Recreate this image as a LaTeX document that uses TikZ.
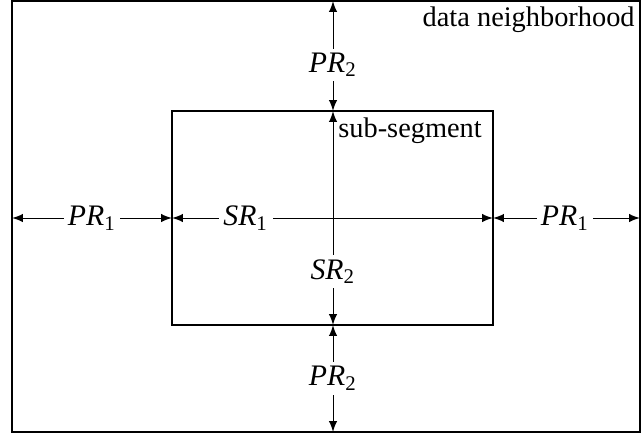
\documentclass[tikz,border=0pt]{standalone}
\usepackage{fontspec}
\setmainfont{Liberation Serif}
\usetikzlibrary{calc}

\begin{document}
\begin{tikzpicture}[x=0.356pt, y=0.356pt, >=latex,
  dim/.style={<->, line width=0.35pt},
  lbl/.style={fill=white, inner sep=1.5pt, font=\fontsize{10.6}{12}\selectfont}]

\useasboundingbox (0,0) rectangle (643,434);

% Corners
\coordinate (outSW) at (12,2);
\coordinate (outNE) at (640,433);
\coordinate (inSW) at (172,109);
\coordinate (inNE) at (493,323);

% Rectangles
\draw[line width=0.7pt] (outSW) rectangle (outNE);
\draw[line width=0.7pt] (inSW) rectangle (inNE);

% Ends of the dimension lines
\coordinate (outN) at (333,433);
\coordinate (outS) at (333,2);
\coordinate (outW) at (12,216);
\coordinate (outE) at (640,216);
\coordinate (inN) at (333,323);
\coordinate (inS) at (333,109);
\coordinate (inW) at (172,216);
\coordinate (inE) at (493,216);

% Horizontal
\draw[dim] (outW) -- node[lbl, pos=0.5] {\textit{PR}\textsubscript{1}} (inW);
\draw[dim] (inW) -- node[lbl, pos=0.23] {\textit{SR}\textsubscript{1}} (inE);
\draw[dim] (inE) -- node[lbl, pos=0.49] {\textit{PR}\textsubscript{1}} (outE);

% Vertical
\draw[dim] (inN) -- node[lbl, pos=0.42] {\textit{PR}\textsubscript{2}} (outN);
\draw[dim] (inN) -- node[lbl, pos=0.75] {\textit{SR}\textsubscript{2}} (inS);
\draw[dim] (inS) -- node[lbl, pos=0.5] {\textit{PR}\textsubscript{2}} (outS);

% Names
\node[lbl, fill=none, anchor=north east, inner sep=1pt, font=\fontsize{10.1}{12}\selectfont] (nbh) at (638,431) {data neighborhood};
\node[lbl, fill=none, anchor=north west, inner sep=1pt, font=\fontsize{10.1}{12}\selectfont] (seg) at (335,320) {sub-segment};

\end{tikzpicture}
\end{document}
